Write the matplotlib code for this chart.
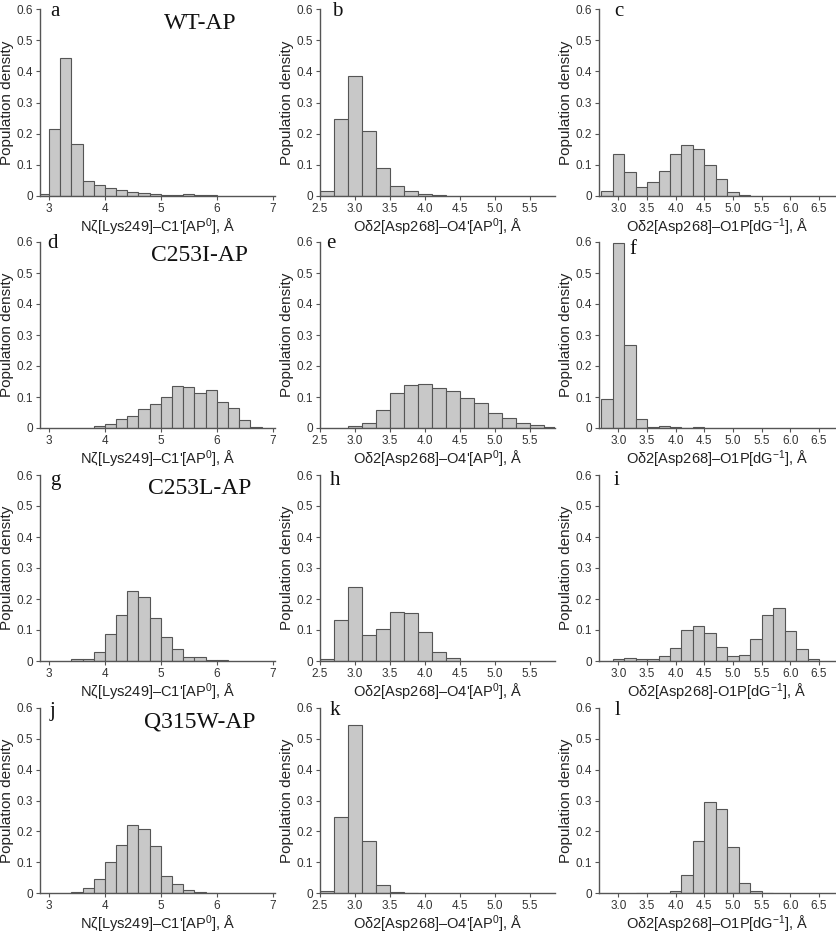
import matplotlib.pyplot as plt
import numpy as np
from matplotlib.ticker import FuncFormatter

# ===================== Données : densités par classe de 0.2 Å =====================
bin_w = 0.2

# Nζ[Lys249]–C1'[AP0]
a_start = 2.8
a_vals = [0.007, 0.215, 0.443, 0.168, 0.048, 0.035, 0.026, 0.019, 0.013, 0.009,
          0.006, 0.003, 0.002, 0.006, 0.002, 0.002]
d_start = 3.8
d_vals = [0.005, 0.013, 0.028, 0.038, 0.060, 0.077, 0.099, 0.134, 0.133, 0.112,
          0.124, 0.083, 0.064, 0.025, 0.002]
g_start = 3.4
g_vals = [0.005, 0.005, 0.030, 0.086, 0.148, 0.225, 0.208, 0.139, 0.076, 0.040,
          0.014, 0.013, 0.004, 0.002]
j_start = 3.4
j_vals = [0.004, 0.015, 0.044, 0.099, 0.156, 0.222, 0.208, 0.153, 0.054, 0.028,
          0.009, 0.004, 0.001]

# Oδ2[Asp268]–O4'[AP0]
b_start = 2.5
b_vals = [0.016, 0.247, 0.384, 0.207, 0.090, 0.032, 0.016, 0.006, 0.002]
e_start = 2.9
e_vals = [0.007, 0.016, 0.057, 0.112, 0.138, 0.142, 0.128, 0.118, 0.096, 0.080,
          0.050, 0.031, 0.015, 0.011, 0.002]
h_start = 2.5
h_vals = [0.005, 0.131, 0.240, 0.083, 0.102, 0.157, 0.154, 0.093, 0.028, 0.009]
k_start = 2.5
k_vals = [0.008, 0.246, 0.545, 0.168, 0.025, 0.004, 0.001]

# Oδ2[Asp268]–O1P[dG-1]
c_start = 2.7
c_vals = [0.016, 0.134, 0.076, 0.028, 0.044, 0.080, 0.135, 0.163, 0.151, 0.099,
          0.053, 0.013, 0.002]
f_start = 2.7
f_vals = [0.095, 0.598, 0.267, 0.028, 0.002, 0.005, 0.002, 0.001, 0.002]
i_start = 2.9
i_vals = [0.008, 0.011, 0.005, 0.005, 0.015, 0.041, 0.099, 0.112, 0.089, 0.044,
          0.016, 0.018, 0.070, 0.148, 0.170, 0.096, 0.040, 0.008]
l_start = 3.3
l_vals = [0.001, 0.000, 0.001, 0.008, 0.060, 0.170, 0.295, 0.273, 0.150, 0.031,
          0.008, 0.001]

lab_lys = "Nζ[Lys249]–C1'[AP$^0$], Å"
lab_o4 = "Oδ2[Asp268]–O4'[AP$^0$], Å"
lab_o1p = "Oδ2[Asp268]–O1P[dG$^{-1}$], Å"
lab_o1p_i = "Oδ2[Asp268]-O1P[dG$^{-1}$], Å"

titres = ["WT-AP", "C253I-AP", "C253L-AP", "Q315W-AP"]

panneaux = [
    # (lettre, debut, valeurs, label, pos lettre)
    [("a", a_start, a_vals, lab_lys, (0.065, 0.985)),
     ("b", b_start, b_vals, lab_o4, (0.072, 0.985)),
     ("c", c_start, c_vals, lab_o1p, (0.084, 0.985))],
    [("d", d_start, d_vals, lab_lys, (0.055, 0.99)),
     ("e", e_start, e_vals, lab_o4, (0.045, 0.99)),
     ("f", f_start, f_vals, lab_o1p, (0.145, 0.96))],
    [("g", g_start, g_vals, lab_lys, (0.064, 0.97)),
     ("h", h_start, h_vals, lab_o4, (0.064, 0.97)),
     ("i", i_start, i_vals, lab_o1p_i, (0.072, 0.97))],
    [("j", j_start, j_vals, lab_lys, (0.055, 0.98)),
     ("k", k_start, k_vals, lab_o4, (0.064, 0.985)),
     ("l", l_start, l_vals, lab_o1p, (0.08, 0.985))],
]

# ===================== Mise en page =====================
plt.rcParams['font.family'] = ['Liberation Sans', 'DejaVu Sans']
plt.rcParams['mathtext.fontset'] = 'custom'
plt.rcParams['mathtext.rm'] = 'Liberation Sans'
plt.rcParams['mathtext.it'] = 'Liberation Sans:italic'

W, H = 836, 933
fig = plt.figure(figsize=(W / 100, H / 100), dpi=100)

col_left = [40, 320, 599]
col_right = [275, 555, 835]
row_top = [9, 242, 475, 708]
row_bot = [196, 428, 661, 893]

xlims = [(2.84, 7.04), (2.5, 5.86), (2.66, 6.78)]
xticks = [np.arange(3, 8, 1), np.arange(2.5, 5.6, 0.5), np.arange(3.0, 6.6, 0.5)]
xfmt = ["{:.0f}", "{:.1f}", "{:.1f}"]

gris = "#555555"

def fmt_y(v, pos):
    return "0" if abs(v) < 1e-9 else f"{v:.1f}"

for r in range(4):
    for c in range(3):
        lettre, debut, vals, xlabel, pos = panneaux[r][c]
        ax = fig.add_axes([col_left[c] / W, 1 - row_bot[r] / H,
                           (col_right[c] - col_left[c]) / W,
                           (row_bot[r] - row_top[r]) / H])
        x = debut + bin_w * np.arange(len(vals))
        ax.bar(x, vals, width=bin_w, align='edge', color="#c8c8c8",
               edgecolor=gris, linewidth=0.8, zorder=2)

        ax.set_xlim(*xlims[c])
        ax.set_ylim(0, 0.6)
        ax.set_xticks(xticks[c])
        ax.set_xticklabels([xfmt[c].format(t) for t in xticks[c]])
        ax.set_yticks(np.arange(0, 0.61, 0.1))
        ax.yaxis.set_major_formatter(FuncFormatter(fmt_y))

        for s in ["top", "right"]:
            ax.spines[s].set_visible(False)
        for s in ["left", "bottom"]:
            ax.spines[s].set_color(gris)
            ax.spines[s].set_linewidth(1.0)
        ax.tick_params(direction='out', length=3, width=0.8, color=gris,
                       labelsize=8.5, labelcolor="#333333", pad=2)

        ax.set_xlabel(xlabel, fontsize=10.5, color="#222222", labelpad=1)
        ax.set_ylabel("Population density", fontsize=11, color="#222222",
                      labelpad=2)

        ax.text(pos[0], pos[1], lettre, transform=ax.transAxes,
                family='Liberation Serif', fontsize=15, ha='center',
                va='center', color="#111111")
        if c == 0:
            ax.text(0.68, 0.925, titres[r], transform=ax.transAxes,
                    family='Liberation Serif', fontsize=17, ha='center',
                    va='center', color="#111111")

fig.savefig("out.png", dpi=100)
